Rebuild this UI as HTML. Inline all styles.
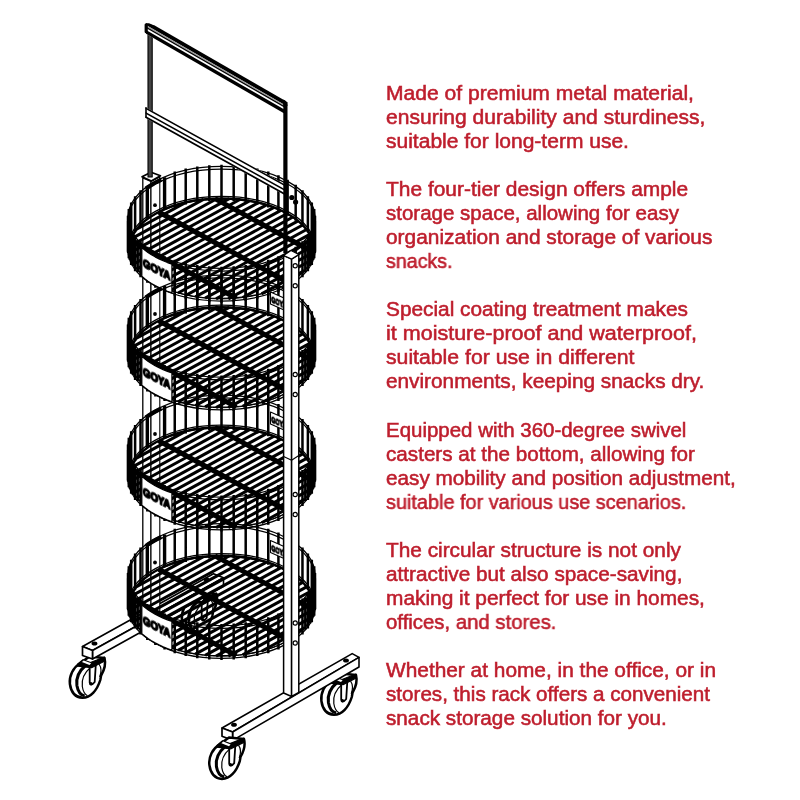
<!DOCTYPE html>
<html lang="en"><head><meta charset="utf-8"><title>Four-tier snack rack</title>
<style>
html,body{margin:0;padding:0;background:#fff}
#page{position:relative;width:800px;height:800px;overflow:hidden;background:#fff}
svg{position:absolute;left:0;top:0}
.t{will-change:transform;position:absolute;left:385.5px;font:20.4px/20px "Liberation Sans",sans-serif;color:#be1e2d;white-space:nowrap;transform-origin:0 0;-webkit-text-stroke:0.55px #be1e2d}
</style></head><body><div id="page">
<svg width="800" height="800" viewBox="0 0 800 800" stroke="#000" stroke-linecap="butt" stroke-linejoin="round">
<g transform="translate(206.5,579.5)">
<path d="M-14,19.5 C-21.5,24 -25.6,32.5 -24.6,40.5 C-23.5,48.5 -19,53.8 -12,54.3 C-4,54.3 2.5,47 5.8,36.5 L6.6,32 C9.8,26.5 11.6,20.5 10,14.5 L-5,13 Z" fill="#fff" stroke-width="2.5"/>
<path d="M-9,22 C-15.5,27.5 -18.6,35 -17.6,42 C-16.6,48 -14,51.6 -9.8,52.4" fill="none" stroke-width="3"/>
<path d="M-4,24 C-10.5,29.5 -13,36.5 -12.2,43 C-11.5,47.5 -9.8,50.8 -7,52.3" fill="none" stroke-width="1.2"/>
<path d="M4.5,20.5 C7,24 6.8,29 5.2,33.5" fill="none" stroke-width="1.2"/>
<path d="M-4.8,21 L-4.8,39 Q-3.5,43.2 0.2,38.5 L1.3,21 Z" fill="#fff" stroke-width="1.8"/>
<circle cx="-3.6" cy="40.2" r="1.8" fill="#000" stroke="none"/>
<path d="M-17,20.8 L-11.5,16.2 L-4,19 L10,13.5 L10.3,17.5 L-3,24.2 L-17,22.6 Z" fill="#000" stroke-width="1.2"/>
<path d="M-12.6,18.6 L-5,21.6 L-3.4,19.8 L-10.8,17 Z" fill="#fff" stroke="none"/>
</g>
<g transform="translate(94.5,643.5)">
<path d="M-14,19.5 C-21.5,24 -25.6,32.5 -24.6,40.5 C-23.5,48.5 -19,53.8 -12,54.3 C-4,54.3 2.5,47 5.8,36.5 L6.6,32 C9.8,26.5 11.6,20.5 10,14.5 L-5,13 Z" fill="#fff" stroke-width="2.5"/>
<path d="M-9,22 C-15.5,27.5 -18.6,35 -17.6,42 C-16.6,48 -14,51.6 -9.8,52.4" fill="none" stroke-width="3"/>
<path d="M-4,24 C-10.5,29.5 -13,36.5 -12.2,43 C-11.5,47.5 -9.8,50.8 -7,52.3" fill="none" stroke-width="1.2"/>
<path d="M4.5,20.5 C7,24 6.8,29 5.2,33.5" fill="none" stroke-width="1.2"/>
<path d="M-4.8,21 L-4.8,39 Q-3.5,43.2 0.2,38.5 L1.3,21 Z" fill="#fff" stroke-width="1.8"/>
<circle cx="-3.6" cy="40.2" r="1.8" fill="#000" stroke="none"/>
<path d="M-17,20.8 L-11.5,16.2 L-4,19 L10,13.5 L10.3,17.5 L-3,24.2 L-17,22.6 Z" fill="#000" stroke-width="1.2"/>
<path d="M-12.6,18.6 L-5,21.6 L-3.4,19.8 L-10.8,17 Z" fill="#fff" stroke="none"/>
</g>
<polygon points="82.5,646.5 213.5,573.79 223.5,577.79 92.5,650.5" stroke-width="1.6" fill="#fff" />
<polygon points="92.5,650.5 223.5,577.79 223.5,586.29 92.5,659" stroke-width="1.6" fill="#fff" />
<polygon points="82.5,646.5 92.5,650.5 92.5,659 82.5,655.5" stroke-width="1.7" fill="#fff" />
<ellipse cx="94.5" cy="643.6" rx="2.9" ry="2.0" fill="#000" stroke="none"/>
<ellipse cx="206.5" cy="579.6" rx="2.9" ry="2.0" fill="#000" stroke="none"/>
<polygon points="142.8,178 142.8,612 151,616 151,181.5" stroke-width="1.3" fill="#fff" />
<polygon points="151,181.5 151,616 159.8,611 159.8,177" stroke-width="1.1" fill="#fff" />
<polygon points="142,176.8 151,172.2 160.5,175.8 151.3,181" stroke-width="1.7" fill="#fff" />
<rect x="148" y="30" width="4.2" height="147" fill="#444" stroke="#000" stroke-width="1.1"/>
<g>
<g stroke-width="3.05">
<line x1="185.85" y1="202.38" x2="136.58" y2="229.26"/>
<line x1="203.42" y1="199.44" x2="131.19" y2="238.84"/>
<line x1="217.29" y1="198.52" x2="129.5" y2="246.41"/>
<line x1="229.24" y1="198.64" x2="129.73" y2="252.92"/>
<line x1="239.89" y1="199.48" x2="131.26" y2="258.73"/>
<line x1="249.55" y1="200.85" x2="133.78" y2="264"/>
<line x1="258.39" y1="202.67" x2="137.11" y2="268.82"/>
<line x1="266.52" y1="204.88" x2="141.16" y2="273.26"/>
<line x1="274.02" y1="207.43" x2="145.84" y2="277.35"/>
<line x1="280.91" y1="210.32" x2="151.13" y2="281.11"/>
<line x1="287.23" y1="213.51" x2="156.99" y2="284.55"/>
<line x1="292.98" y1="217.02" x2="163.42" y2="287.69"/>
<line x1="298.14" y1="220.84" x2="170.43" y2="290.5"/>
<line x1="302.7" y1="225" x2="178.05" y2="292.99"/>
<line x1="306.61" y1="229.51" x2="186.32" y2="295.13"/>
<line x1="309.8" y1="234.42" x2="195.31" y2="296.86"/>
<line x1="312.14" y1="239.78" x2="205.15" y2="298.14"/>
<line x1="313.43" y1="245.72" x2="216.03" y2="298.85"/>
<line x1="313.35" y1="252.41" x2="228.3" y2="298.8"/>
<line x1="311.12" y1="260.26" x2="242.7" y2="297.59"/>
<line x1="304.42" y1="270.56" x2="261.58" y2="293.93"/>
</g>
<g stroke-width="5">
<line x1="214.93" y1="198.59" x2="313.36" y2="252.29"/>
<line x1="158.73" y1="211.94" x2="288.9" y2="282.94"/>
<line x1="130.61" y1="240.59" x2="236.36" y2="298.28"/>
</g>
<path d="M129.4,248.7A92.1,50.23 0 0 1 313.6,248.7" fill="none" stroke-width="2.4"/>
<path d="M129.4,248.7A92.1,50.23 0 0 0 313.6,248.7" fill="none" stroke-width="1"/>
<ellipse cx="221.5" cy="217.4" rx="93.5" ry="51.0" fill="none" stroke-width="1.25"/>
<ellipse cx="221.5" cy="220" rx="93.5" ry="51.0" fill="none" stroke-width="1.25"/>
<ellipse cx="221.5" cy="247.4" rx="93.5" ry="51.0" fill="none" stroke-width="1.25"/>
<ellipse cx="221.5" cy="250" rx="93.5" ry="51.0" fill="none" stroke-width="1.25"/>
<path d="M221.5,164.7V200.7M233.7,165.14V201.14M245.7,166.44V202.44M257.28,168.58V204.58M268.25,171.53V207.53M278.42,175.24V211.24M287.61,179.64V215.64M295.68,184.65V220.65M302.47,190.2V226.2M307.88,196.18V232.18M311.81,202.5V238.5M314.2,209.04V245.04M315,215.7V251.7M314.2,222.36V258.36M311.81,228.9V264.9M307.88,235.22V271.22M302.47,241.2V277.2M295.68,246.75V282.75M287.61,251.76V287.76M278.42,256.16V292.16M268.25,259.87V295.87M257.28,262.82V298.82M245.7,264.96V300.96M233.7,266.26V302.26M221.5,266.7V302.7M209.3,266.26V302.26M197.3,264.96V300.96M185.72,262.82V298.82M174.75,259.87V295.87M164.58,256.16V292.16M155.39,251.76V287.76M147.32,246.75V282.75M140.53,241.2V277.2M135.12,235.22V271.22M131.19,228.9V264.9M128.8,222.36V258.36M128,215.7V251.7M128.8,209.04V245.04M131.19,202.5V238.5M135.12,196.18V232.18M140.53,190.2V226.2M174.75,171.53V207.53M185.72,168.58V204.58M197.3,166.44V202.44M209.3,165.14V201.14" fill="none" stroke-width="2.5"/>
<path d="M147.32,186.65V218.65M164.58,177.24V209.24" fill="none" stroke-width="3.4"/>
<path d="M314.8,221.04V253.04M313.2,227.65V259.65M310.04,234.09V266.09M305.36,240.26V272.26M137.64,240.26V272.26M132.96,234.09V266.09M129.8,227.65V259.65M128.2,221.04V253.04" fill="none" stroke-width="2.6"/>
<polyline points="145.86,188.72 147.82,187.3 149.87,185.92 152.02,184.57 154.24,183.27 156.55,182.01 158.94,180.8 161.4,179.63" stroke-width="4.2" fill="none" />
<circle cx="155" cy="205.2" r="1.9" fill="#000" stroke="none"/>
<polygon points="141.78,247.55 144.73,250.02 147.95,252.39 151.41,254.65 155.1,256.8 159.01,258.84 163.14,260.74 167.45,262.52 171.95,264.15 171.95,292.95 167.45,291.32 163.14,289.54 159.01,287.64 155.1,285.6 151.41,283.45 147.95,281.19 144.73,278.82 141.78,276.35" stroke-width="1.3" fill="#fff" />
<text style="will-change:transform" transform="translate(142.94,266.6) skewY(27)" font-family="'Liberation Sans',sans-serif" font-weight="bold" font-size="11.5" textLength="27.5" lengthAdjust="spacingAndGlyphs" fill="#000" stroke="#000" stroke-width="1.7">GOYA</text>
</g>
<g>
<g stroke-width="3.05">
<line x1="185.85" y1="311.18" x2="136.58" y2="338.06"/>
<line x1="203.42" y1="308.24" x2="131.19" y2="347.64"/>
<line x1="217.29" y1="307.32" x2="129.5" y2="355.21"/>
<line x1="229.24" y1="307.44" x2="129.73" y2="361.72"/>
<line x1="239.89" y1="308.28" x2="131.26" y2="367.53"/>
<line x1="249.55" y1="309.65" x2="133.78" y2="372.8"/>
<line x1="258.39" y1="311.47" x2="137.11" y2="377.62"/>
<line x1="266.52" y1="313.68" x2="141.16" y2="382.06"/>
<line x1="274.02" y1="316.23" x2="145.84" y2="386.15"/>
<line x1="280.91" y1="319.12" x2="151.13" y2="389.91"/>
<line x1="287.23" y1="322.31" x2="156.99" y2="393.35"/>
<line x1="292.98" y1="325.82" x2="163.42" y2="396.49"/>
<line x1="298.14" y1="329.64" x2="170.43" y2="399.3"/>
<line x1="302.7" y1="333.8" x2="178.05" y2="401.79"/>
<line x1="306.61" y1="338.31" x2="186.32" y2="403.93"/>
<line x1="309.8" y1="343.22" x2="195.31" y2="405.66"/>
<line x1="312.14" y1="348.58" x2="205.15" y2="406.94"/>
<line x1="313.43" y1="354.52" x2="216.03" y2="407.65"/>
<line x1="313.35" y1="361.21" x2="228.3" y2="407.6"/>
<line x1="311.12" y1="369.06" x2="242.7" y2="406.39"/>
<line x1="304.42" y1="379.36" x2="261.58" y2="402.73"/>
</g>
<g stroke-width="5">
<line x1="214.93" y1="307.39" x2="313.36" y2="361.09"/>
<line x1="158.73" y1="320.74" x2="288.9" y2="391.74"/>
<line x1="130.61" y1="349.39" x2="236.36" y2="407.08"/>
</g>
<path d="M129.4,357.5A92.1,50.23 0 0 1 313.6,357.5" fill="none" stroke-width="2.4"/>
<path d="M129.4,357.5A92.1,50.23 0 0 0 313.6,357.5" fill="none" stroke-width="1"/>
<ellipse cx="221.5" cy="326.2" rx="93.5" ry="51.0" fill="none" stroke-width="1.25"/>
<ellipse cx="221.5" cy="328.8" rx="93.5" ry="51.0" fill="none" stroke-width="1.25"/>
<ellipse cx="221.5" cy="356.2" rx="93.5" ry="51.0" fill="none" stroke-width="1.25"/>
<ellipse cx="221.5" cy="358.8" rx="93.5" ry="51.0" fill="none" stroke-width="1.25"/>
<path d="M221.5,273.5V309.5M233.7,273.94V309.94M245.7,275.24V311.24M257.28,277.38V313.38M268.25,280.33V316.33M278.42,284.04V320.04M287.61,288.44V324.44M295.68,293.45V329.45M302.47,299V335M307.88,304.98V340.98M311.81,311.3V347.3M314.2,317.84V353.84M315,324.5V360.5M314.2,331.16V367.16M311.81,337.7V373.7M307.88,344.02V380.02M302.47,350V386M295.68,355.55V391.55M287.61,360.56V396.56M278.42,364.96V400.96M268.25,368.67V404.67M257.28,371.62V407.62M245.7,373.76V409.76M233.7,375.06V411.06M221.5,375.5V411.5M209.3,375.06V411.06M197.3,373.76V409.76M185.72,371.62V407.62M174.75,368.67V404.67M164.58,364.96V400.96M155.39,360.56V396.56M147.32,355.55V391.55M140.53,350V386M135.12,344.02V380.02M131.19,337.7V373.7M128.8,331.16V367.16M128,324.5V360.5M128.8,317.84V353.84M131.19,311.3V347.3M135.12,304.98V340.98M140.53,299V335M174.75,280.33V316.33M185.72,277.38V313.38M197.3,275.24V311.24M209.3,273.94V309.94" fill="none" stroke-width="2.5"/>
<path d="M147.32,295.45V327.45M164.58,286.04V318.04" fill="none" stroke-width="3.4"/>
<path d="M314.8,329.84V361.84M313.2,336.45V368.45M310.04,342.89V374.89M305.36,349.06V381.06M137.64,349.06V381.06M132.96,342.89V374.89M129.8,336.45V368.45M128.2,329.84V361.84" fill="none" stroke-width="2.6"/>
<polyline points="145.86,297.52 147.82,296.1 149.87,294.72 152.02,293.37 154.24,292.07 156.55,290.81 158.94,289.6 161.4,288.43" stroke-width="4.2" fill="none" />
<circle cx="155" cy="314" r="1.9" fill="#000" stroke="none"/>
<polygon points="270.5,292 284,298 284,310 270.5,304" stroke-width="1.1" fill="#fff" />
<text style="will-change:transform" transform="translate(271.3,302.3) skewY(24)" font-family="'Liberation Sans',sans-serif" font-weight="bold" font-size="8.5" textLength="15" lengthAdjust="spacingAndGlyphs" fill="#000" stroke="#000" stroke-width="1.1">GOYA</text>
<polygon points="141.78,356.35 144.73,358.82 147.95,361.19 151.41,363.45 155.1,365.6 159.01,367.64 163.14,369.54 167.45,371.32 171.95,372.95 171.95,401.75 167.45,400.12 163.14,398.34 159.01,396.44 155.1,394.4 151.41,392.25 147.95,389.99 144.73,387.62 141.78,385.15" stroke-width="1.3" fill="#fff" />
<text style="will-change:transform" transform="translate(142.94,375.4) skewY(27)" font-family="'Liberation Sans',sans-serif" font-weight="bold" font-size="11.5" textLength="27.5" lengthAdjust="spacingAndGlyphs" fill="#000" stroke="#000" stroke-width="1.7">GOYA</text>
</g>
<g>
<g stroke-width="3.05">
<line x1="185.85" y1="431.18" x2="136.58" y2="458.06"/>
<line x1="203.42" y1="428.24" x2="131.19" y2="467.64"/>
<line x1="217.29" y1="427.32" x2="129.5" y2="475.21"/>
<line x1="229.24" y1="427.44" x2="129.73" y2="481.72"/>
<line x1="239.89" y1="428.28" x2="131.26" y2="487.53"/>
<line x1="249.55" y1="429.65" x2="133.78" y2="492.8"/>
<line x1="258.39" y1="431.47" x2="137.11" y2="497.62"/>
<line x1="266.52" y1="433.68" x2="141.16" y2="502.06"/>
<line x1="274.02" y1="436.23" x2="145.84" y2="506.15"/>
<line x1="280.91" y1="439.12" x2="151.13" y2="509.91"/>
<line x1="287.23" y1="442.31" x2="156.99" y2="513.35"/>
<line x1="292.98" y1="445.82" x2="163.42" y2="516.49"/>
<line x1="298.14" y1="449.64" x2="170.43" y2="519.3"/>
<line x1="302.7" y1="453.8" x2="178.05" y2="521.79"/>
<line x1="306.61" y1="458.31" x2="186.32" y2="523.93"/>
<line x1="309.8" y1="463.22" x2="195.31" y2="525.66"/>
<line x1="312.14" y1="468.58" x2="205.15" y2="526.94"/>
<line x1="313.43" y1="474.52" x2="216.03" y2="527.65"/>
<line x1="313.35" y1="481.21" x2="228.3" y2="527.6"/>
<line x1="311.12" y1="489.06" x2="242.7" y2="526.39"/>
<line x1="304.42" y1="499.36" x2="261.58" y2="522.73"/>
</g>
<g stroke-width="5">
<line x1="214.93" y1="427.39" x2="313.36" y2="481.09"/>
<line x1="158.73" y1="440.74" x2="288.9" y2="511.74"/>
<line x1="130.61" y1="469.39" x2="236.36" y2="527.08"/>
</g>
<path d="M129.4,477.5A92.1,50.23 0 0 1 313.6,477.5" fill="none" stroke-width="2.4"/>
<path d="M129.4,477.5A92.1,50.23 0 0 0 313.6,477.5" fill="none" stroke-width="1"/>
<ellipse cx="221.5" cy="446.2" rx="93.5" ry="51.0" fill="none" stroke-width="1.25"/>
<ellipse cx="221.5" cy="448.8" rx="93.5" ry="51.0" fill="none" stroke-width="1.25"/>
<ellipse cx="221.5" cy="476.2" rx="93.5" ry="51.0" fill="none" stroke-width="1.25"/>
<ellipse cx="221.5" cy="478.8" rx="93.5" ry="51.0" fill="none" stroke-width="1.25"/>
<path d="M221.5,393.5V429.5M233.7,393.94V429.94M245.7,395.24V431.24M257.28,397.38V433.38M268.25,400.33V436.33M278.42,404.04V440.04M287.61,408.44V444.44M295.68,413.45V449.45M302.47,419V455M307.88,424.98V460.98M311.81,431.3V467.3M314.2,437.84V473.84M315,444.5V480.5M314.2,451.16V487.16M311.81,457.7V493.7M307.88,464.02V500.02M302.47,470V506M295.68,475.55V511.55M287.61,480.56V516.56M278.42,484.96V520.96M268.25,488.67V524.67M257.28,491.62V527.62M245.7,493.76V529.76M233.7,495.06V531.06M221.5,495.5V531.5M209.3,495.06V531.06M197.3,493.76V529.76M185.72,491.62V527.62M174.75,488.67V524.67M164.58,484.96V520.96M155.39,480.56V516.56M147.32,475.55V511.55M140.53,470V506M135.12,464.02V500.02M131.19,457.7V493.7M128.8,451.16V487.16M128,444.5V480.5M128.8,437.84V473.84M131.19,431.3V467.3M135.12,424.98V460.98M140.53,419V455M174.75,400.33V436.33M185.72,397.38V433.38M197.3,395.24V431.24M209.3,393.94V429.94" fill="none" stroke-width="2.5"/>
<path d="M147.32,415.45V447.45M164.58,406.04V438.04" fill="none" stroke-width="3.4"/>
<path d="M314.8,449.84V481.84M313.2,456.45V488.45M310.04,462.89V494.89M305.36,469.06V501.06M137.64,469.06V501.06M132.96,462.89V494.89M129.8,456.45V488.45M128.2,449.84V481.84" fill="none" stroke-width="2.6"/>
<polyline points="145.86,417.52 147.82,416.1 149.87,414.72 152.02,413.37 154.24,412.07 156.55,410.81 158.94,409.6 161.4,408.43" stroke-width="4.2" fill="none" />
<circle cx="155" cy="434" r="1.9" fill="#000" stroke="none"/>
<polygon points="270.5,412 284,418 284,430 270.5,424" stroke-width="1.1" fill="#fff" />
<text style="will-change:transform" transform="translate(271.3,422.3) skewY(24)" font-family="'Liberation Sans',sans-serif" font-weight="bold" font-size="8.5" textLength="15" lengthAdjust="spacingAndGlyphs" fill="#000" stroke="#000" stroke-width="1.1">GOYA</text>
<polygon points="141.78,476.35 144.73,478.82 147.95,481.19 151.41,483.45 155.1,485.6 159.01,487.64 163.14,489.54 167.45,491.32 171.95,492.95 171.95,521.75 167.45,520.12 163.14,518.34 159.01,516.44 155.1,514.4 151.41,512.25 147.95,509.99 144.73,507.62 141.78,505.15" stroke-width="1.3" fill="#fff" />
<text style="will-change:transform" transform="translate(142.94,495.4) skewY(27)" font-family="'Liberation Sans',sans-serif" font-weight="bold" font-size="11.5" textLength="27.5" lengthAdjust="spacingAndGlyphs" fill="#000" stroke="#000" stroke-width="1.7">GOYA</text>
</g>
<g>
<g stroke-width="3.05">
<line x1="185.85" y1="559.68" x2="136.58" y2="586.56"/>
<line x1="203.42" y1="556.74" x2="131.19" y2="596.14"/>
<line x1="217.29" y1="555.82" x2="129.5" y2="603.71"/>
<line x1="229.24" y1="555.94" x2="129.73" y2="610.22"/>
<line x1="239.89" y1="556.78" x2="131.26" y2="616.03"/>
<line x1="249.55" y1="558.15" x2="133.78" y2="621.3"/>
<line x1="258.39" y1="559.97" x2="137.11" y2="626.12"/>
<line x1="266.52" y1="562.18" x2="141.16" y2="630.56"/>
<line x1="274.02" y1="564.73" x2="145.84" y2="634.65"/>
<line x1="280.91" y1="567.62" x2="151.13" y2="638.41"/>
<line x1="287.23" y1="570.81" x2="156.99" y2="641.85"/>
<line x1="292.98" y1="574.32" x2="163.42" y2="644.99"/>
<line x1="298.14" y1="578.14" x2="170.43" y2="647.8"/>
<line x1="302.7" y1="582.3" x2="178.05" y2="650.29"/>
<line x1="306.61" y1="586.81" x2="186.32" y2="652.43"/>
<line x1="309.8" y1="591.72" x2="195.31" y2="654.16"/>
<line x1="312.14" y1="597.08" x2="205.15" y2="655.44"/>
<line x1="313.43" y1="603.02" x2="216.03" y2="656.15"/>
<line x1="313.35" y1="609.71" x2="228.3" y2="656.1"/>
<line x1="311.12" y1="617.56" x2="242.7" y2="654.89"/>
<line x1="304.42" y1="627.86" x2="261.58" y2="651.23"/>
</g>
<g stroke-width="5">
<line x1="214.93" y1="555.89" x2="313.36" y2="609.59"/>
<line x1="158.73" y1="569.24" x2="288.9" y2="640.24"/>
<line x1="130.61" y1="597.89" x2="236.36" y2="655.58"/>
</g>
<path d="M129.4,606A92.1,50.23 0 0 1 313.6,606" fill="none" stroke-width="2.4"/>
<path d="M129.4,606A92.1,50.23 0 0 0 313.6,606" fill="none" stroke-width="1"/>
<ellipse cx="221.5" cy="574.7" rx="93.5" ry="51.0" fill="none" stroke-width="1.25"/>
<ellipse cx="221.5" cy="577.3" rx="93.5" ry="51.0" fill="none" stroke-width="1.25"/>
<ellipse cx="221.5" cy="604.7" rx="93.5" ry="51.0" fill="none" stroke-width="1.25"/>
<ellipse cx="221.5" cy="607.3" rx="93.5" ry="51.0" fill="none" stroke-width="1.25"/>
<path d="M221.5,522V558M233.7,522.44V558.44M245.7,523.74V559.74M257.28,525.88V561.88M268.25,528.83V564.83M278.42,532.54V568.54M287.61,536.94V572.94M295.68,541.95V577.95M302.47,547.5V583.5M307.88,553.48V589.48M311.81,559.8V595.8M314.2,566.34V602.34M315,573V609M314.2,579.66V615.66M311.81,586.2V622.2M307.88,592.52V628.52M302.47,598.5V634.5M295.68,604.05V640.05M287.61,609.06V645.06M278.42,613.46V649.46M268.25,617.17V653.17M257.28,620.12V656.12M245.7,622.26V658.26M233.7,623.56V659.56M221.5,624V660M209.3,623.56V659.56M197.3,622.26V658.26M185.72,620.12V656.12M174.75,617.17V653.17M164.58,613.46V649.46M155.39,609.06V645.06M147.32,604.05V640.05M140.53,598.5V634.5M135.12,592.52V628.52M131.19,586.2V622.2M128.8,579.66V615.66M128,573V609M128.8,566.34V602.34M131.19,559.8V595.8M135.12,553.48V589.48M140.53,547.5V583.5M174.75,528.83V564.83M185.72,525.88V561.88M197.3,523.74V559.74M209.3,522.44V558.44" fill="none" stroke-width="2.5"/>
<path d="M147.32,543.95V575.95M164.58,534.54V566.54" fill="none" stroke-width="3.4"/>
<path d="M314.8,578.34V610.34M313.2,584.95V616.95M310.04,591.39V623.39M305.36,597.56V629.56M137.64,597.56V629.56M132.96,591.39V623.39M129.8,584.95V616.95M128.2,578.34V610.34" fill="none" stroke-width="2.6"/>
<polyline points="145.86,546.02 147.82,544.6 149.87,543.22 152.02,541.87 154.24,540.57 156.55,539.31 158.94,538.1 161.4,536.93" stroke-width="4.2" fill="none" />
<circle cx="155" cy="562.5" r="1.9" fill="#000" stroke="none"/>
<polygon points="270.5,540.5 284,546.5 284,558.5 270.5,552.5" stroke-width="1.1" fill="#fff" />
<text style="will-change:transform" transform="translate(271.3,550.8) skewY(24)" font-family="'Liberation Sans',sans-serif" font-weight="bold" font-size="8.5" textLength="15" lengthAdjust="spacingAndGlyphs" fill="#000" stroke="#000" stroke-width="1.1">GOYA</text>
<polygon points="141.78,604.85 144.73,607.32 147.95,609.69 151.41,611.95 155.1,614.1 159.01,616.14 163.14,618.04 167.45,619.82 171.95,621.45 171.95,650.25 167.45,648.62 163.14,646.84 159.01,644.94 155.1,642.9 151.41,640.75 147.95,638.49 144.73,636.12 141.78,633.65" stroke-width="1.3" fill="#fff" />
<text style="will-change:transform" transform="translate(142.94,623.9) skewY(27)" font-family="'Liberation Sans',sans-serif" font-weight="bold" font-size="11.5" textLength="27.5" lengthAdjust="spacingAndGlyphs" fill="#000" stroke="#000" stroke-width="1.7">GOYA</text>
</g>
<polygon points="145.6,107.3 285.5,184.66 285.5,195.41 145.6,118.05" fill="#fff" stroke="none"/>
<polygon points="145.6,107.3 285.5,184.66 285.5,186.46 145.6,109.1" fill="#000" stroke="none"/>
<polygon points="145.6,112.1 285.5,189.46 285.5,191.16 145.6,113.8" fill="#000" stroke="none"/>
<polygon points="145.6,116.05 285.5,193.41 285.5,195.41 145.6,118.05" fill="#000" stroke="none"/>
<line x1="146" y1="107.3" x2="146" y2="118.05" stroke-width="1.6" />
<polygon points="146,20.6 286.5,101.53 286.5,114.63 146,33.7" fill="#fff" stroke="none"/>
<polygon points="146,20.6 286.5,101.53 286.5,106.03 146,25.1" fill="#000" stroke="none"/>
<polygon points="146,25.1 286.5,106.03 286.5,107.33 146,26.4" fill="#999" stroke="none"/>
<polygon points="146,26.4 286.5,107.33 286.5,108.83 146,27.9" fill="#000" stroke="none"/>
<polygon points="146,29.9 286.5,110.83 286.5,114.63 146,33.7" fill="#000" stroke="none"/>
<polygon points="143,17 154,17 154,25.2 149,23.2 143,23.2" fill="#fff" stroke="none"/>
<rect x="144.6" y="23.2" width="3.2" height="10" rx="1.5" fill="#000" stroke="none"/>
<line x1="285.4" y1="102" x2="285.4" y2="253" stroke-width="4.2" />
<path d="M283.3,99.5 Q287.5,101 287.5,106 L283.3,106 Z" fill="#000" stroke="none"/>
<circle cx="291.8" cy="197.5" r="2.6" fill="#000" stroke="none"/><circle cx="295.6" cy="202" r="2.6" fill="#000" stroke="none"/>
<g transform="translate(346,660.5)">
<path d="M-14,19.5 C-21.5,24 -25.6,32.5 -24.6,40.5 C-23.5,48.5 -19,53.8 -12,54.3 C-4,54.3 2.5,47 5.8,36.5 L6.6,32 C9.8,26.5 11.6,20.5 10,14.5 L-5,13 Z" fill="#fff" stroke-width="2.5"/>
<path d="M-9,22 C-15.5,27.5 -18.6,35 -17.6,42 C-16.6,48 -14,51.6 -9.8,52.4" fill="none" stroke-width="3"/>
<path d="M-4,24 C-10.5,29.5 -13,36.5 -12.2,43 C-11.5,47.5 -9.8,50.8 -7,52.3" fill="none" stroke-width="1.2"/>
<path d="M4.5,20.5 C7,24 6.8,29 5.2,33.5" fill="none" stroke-width="1.2"/>
<path d="M-4.8,21 L-4.8,39 Q-3.5,43.2 0.2,38.5 L1.3,21 Z" fill="#fff" stroke-width="1.8"/>
<circle cx="-3.6" cy="40.2" r="1.8" fill="#000" stroke="none"/>
<path d="M-17,20.8 L-11.5,16.2 L-4,19 L10,13.5 L10.3,17.5 L-3,24.2 L-17,22.6 Z" fill="#000" stroke-width="1.2"/>
<path d="M-12.6,18.6 L-5,21.6 L-3.4,19.8 L-10.8,17 Z" fill="#fff" stroke="none"/>
</g>
<polygon points="222,728 352.2,653.6 359,657.4 232.6,732" stroke-width="1.6" fill="#fff" />
<polygon points="232.6,732 359,657.4 359,667 232.6,740.4" stroke-width="1.6" fill="#fff" />
<polygon points="222,728 232.6,732 232.6,740.4 222,736.3" stroke-width="1.7" fill="#fff" />
<ellipse cx="234" cy="724.8" rx="2.9" ry="2.0" fill="#000" stroke="none"/>
<ellipse cx="346" cy="660.5" rx="2.9" ry="2.0" fill="#000" stroke="none"/>
<g transform="translate(234,724.6)">
<path d="M-14,19.5 C-21.5,24 -25.6,32.5 -24.6,40.5 C-23.5,48.5 -19,53.8 -12,54.3 C-4,54.3 2.5,47 5.8,36.5 L6.6,32 C9.8,26.5 11.6,20.5 10,14.5 L-5,13 Z" fill="#fff" stroke-width="2.5"/>
<path d="M-9,22 C-15.5,27.5 -18.6,35 -17.6,42 C-16.6,48 -14,51.6 -9.8,52.4" fill="none" stroke-width="3"/>
<path d="M-4,24 C-10.5,29.5 -13,36.5 -12.2,43 C-11.5,47.5 -9.8,50.8 -7,52.3" fill="none" stroke-width="1.2"/>
<path d="M4.5,20.5 C7,24 6.8,29 5.2,33.5" fill="none" stroke-width="1.2"/>
<path d="M-4.8,21 L-4.8,39 Q-3.5,43.2 0.2,38.5 L1.3,21 Z" fill="#fff" stroke-width="1.8"/>
<circle cx="-3.6" cy="40.2" r="1.8" fill="#000" stroke="none"/>
<path d="M-17,20.8 L-11.5,16.2 L-4,19 L10,13.5 L10.3,17.5 L-3,24.2 L-17,22.6 Z" fill="#000" stroke-width="1.2"/>
<path d="M-12.6,18.6 L-5,21.6 L-3.4,19.8 L-10.8,17 Z" fill="#fff" stroke="none"/>
</g>
<polygon points="283.6,255.5 283.6,693 291.6,696.5 291.6,259" stroke-width="1.5" fill="#fff" />
<polygon points="291.6,259 291.6,696.5 298.8,692.5 298.8,254.5" stroke-width="1.5" fill="#fff" />
<polygon points="283.6,255.5 291.6,259 298.8,254.5 291,250.5" stroke-width="1.2" fill="#fff" />
<polyline points="283.6,456.5 291.6,460.2 298.8,455.5" stroke-width="1.1" fill="none" />
<circle cx="295.2" cy="265.7" r="2.1" fill="#fff" stroke-width="1.2"/>
<circle cx="295.2" cy="285.7" r="2.1" fill="#fff" stroke-width="1.2"/>
<circle cx="295.2" cy="374.5" r="2.1" fill="#fff" stroke-width="1.2"/>
<circle cx="295.2" cy="394.5" r="2.1" fill="#fff" stroke-width="1.2"/>
<circle cx="295.2" cy="494.5" r="2.1" fill="#fff" stroke-width="1.2"/>
<circle cx="295.2" cy="514.5" r="2.1" fill="#fff" stroke-width="1.2"/>
<circle cx="295.2" cy="623" r="2.1" fill="#fff" stroke-width="1.2"/>
<circle cx="295.2" cy="643" r="2.1" fill="#fff" stroke-width="1.2"/>
</svg>
<div class="t" style="top:82.95px;transform:scaleX(1.0332)">Made of premium metal material,</div>
<div class="t" style="top:107px;transform:scaleX(1.0323)">ensuring durability and sturdiness,</div>
<div class="t" style="top:131.04px;transform:scaleX(1.0306)">suitable for long-term use.</div>
<div class="t" style="top:179.13px;transform:scaleX(1.0267)">The four-tier design offers ample</div>
<div class="t" style="top:203.18px;transform:scaleX(1.0055)">storage space, allowing for easy</div>
<div class="t" style="top:227.22px;transform:scaleX(1.0248)">organization and storage of various</div>
<div class="t" style="top:251.27px;transform:scaleX(0.9610)">snacks.</div>
<div class="t" style="top:299.36px;transform:scaleX(1.0206)">Special coating treatment makes</div>
<div class="t" style="top:323.4px;transform:scaleX(1.0553)">it moisture-proof and waterproof,</div>
<div class="t" style="top:347.44px;transform:scaleX(1.0406)">suitable for use in different</div>
<div class="t" style="top:371.49px;transform:scaleX(1.0191)">environments, keeping snacks dry.</div>
<div class="t" style="top:419.58px;transform:scaleX(1.0038)">Equipped with 360-degree swivel</div>
<div class="t" style="top:443.62px;transform:scaleX(1.0129)">casters at the bottom, allowing for</div>
<div class="t" style="top:467.67px;transform:scaleX(1.0154)">easy mobility and position adjustment,</div>
<div class="t" style="top:491.72px;transform:scaleX(0.9743)">suitable for various use scenarios.</div>
<div class="t" style="top:539.8px;transform:scaleX(1.0206)">The circular structure is not only</div>
<div class="t" style="top:563.85px;transform:scaleX(1.0176)">attractive but also space-saving,</div>
<div class="t" style="top:587.89px;transform:scaleX(1.0232)">making it perfect for use in homes,</div>
<div class="t" style="top:611.94px;transform:scaleX(0.9981)">offices, and stores.</div>
<div class="t" style="top:660.03px;transform:scaleX(1.0228)">Whether at home, in the office, or in</div>
<div class="t" style="top:684.07px;transform:scaleX(1.0113)">stores, this rack offers a convenient</div>
<div class="t" style="top:708.12px;transform:scaleX(1.0154)">snack storage solution for you.</div>
</div></body></html>
